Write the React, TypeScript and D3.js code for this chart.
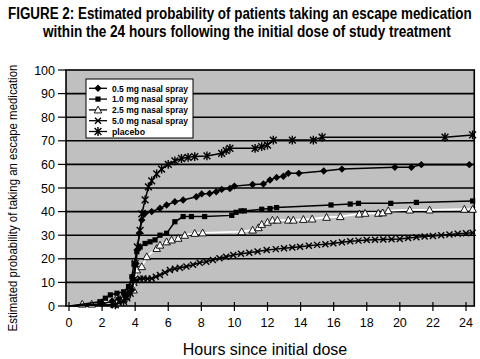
import React, { useLayoutEffect, useRef, useState } from "react";
import * as d3 from "d3";

type Pt = [number, number];

const seriesNames = ["0.5 mg nasal spray", "1.0 mg nasal spray", "2.5 mg nasal spray", "5.0 mg nasal spray", "placebo"];

const dose05: Pt[] = [[0,0],[2.0,1],[2.6,2],[3.0,3],[3.4,4.5],[3.65,5.5],[3.8,6.8],[3.93,11],[4.05,18],[4.13,23.7],[4.25,30.8],[4.4,36.4],[4.6,39.3],[5.0,40],[5.5,41.4],[5.9,42.8],[6.4,44.2],[6.9,44.9],[7.7,46.3],[8.02,47.5],[8.5,47.7],[8.9,48.4],[9.23,49.4],[9.73,49.8],[10.0,50.8],[11.1,51.5],[11.75,51.7],[12.15,53.4],[12.55,54.5],[12.96,55],[13.26,56.2],[13.9,56.2],[15.4,57.2],[16.5,58],[19.7,58.8],[20.7,58.8],[21.3,59.9],[24.2,59.9]];

const dose10: Pt[] = [[0,0],[1.87,1.8],[2.2,3.3],[2.5,4.7],[2.9,5.4],[3.3,6],[3.6,8.2],[3.8,12.4],[3.93,18],[4.1,23],[4.3,25],[4.6,26.5],[4.9,27.2],[5.2,28],[5.5,30],[5.9,30.8],[6.4,35.7],[6.9,37.9],[7.4,37.9],[8.2,37.9],[9.84,38.4],[10.1,39.7],[10.4,40.3],[10.6,40.3],[11.65,41],[12.15,41.3],[12.55,41.7],[15.84,42.8],[17,43.2],[17.5,43.5],[19.45,43.5],[21,43.9],[24.4,44.5]];

const dose25: Pt[] = [[0,0],[0.8,0.8],[1.37,0.8],[2.0,1.5],[2.8,2.5],[3.2,3.5],[3.5,4.7],[3.9,6.8],[4.1,15.3],[4.4,16.7],[4.7,20.9],[5.3,24.4],[5.5,25.8],[5.9,27.2],[6.2,28],[6.6,28.7],[7.0,30],[7.6,30.8],[8.08,31],[10.44,31.5],[11.1,32.2],[11.45,33.2],[11.65,34.6],[12.0,35.5],[12.3,36.4],[12.6,36.4],[13.26,36.4],[13.56,36.4],[14.17,36.7],[14.7,36.9],[15.57,37.6],[16.4,37.9],[17.55,39],[17.9,39.3],[18.7,39.3],[18.96,39.5],[19.3,40.4],[20.6,40.7],[21.8,40.7],[23.9,41],[24.4,41]];

const dose50: Pt[] = [[0,0],[2.7,0.4],[3.0,1.5],[3.3,2.5],[3.5,4],[3.65,6],[3.8,8.2],[3.95,9.8],[4.1,11],[4.3,11.5],[4.5,11.7],[4.75,11.5],[5.0,11.7],[5.25,12.4],[5.5,13.1],[5.8,14.2],[6.1,15.3],[6.4,15.8],[6.7,16.2],[7.1,16.7],[7.5,17.5],[7.9,18.3],[8.3,18.8],[8.7,19.5],[9.1,20.2],[9.5,20.9],[9.93,21.6],[10.4,22.1],[10.9,22.6],[11.4,23.1],[11.95,23.7],[12.5,24.1],[13.0,24.5],[13.5,24.8],[13.97,25.1],[14.5,25.5],[15.0,25.9],[15.5,26.2],[15.98,26.6],[16.5,27],[17,27.4],[17.5,27.7],[18,28],[18.5,28.1],[19,28.2],[19.5,28.3],[20,28.4],[20.5,28.8],[21,29.1],[21.5,29.4],[22,29.7],[22.5,30],[23,30.3],[23.5,30.6],[24,30.8],[24.4,31]];

const placebo: Pt[] = [[0,0],[2.8,0.5],[3.3,2],[3.5,3.5],[3.7,5.4],[3.9,11],[4.0,18],[4.13,25],[4.3,32],[4.4,39],[4.6,45],[4.8,50.5],[5.0,53],[5.3,56],[5.6,58],[6.0,60],[6.4,61.5],[6.8,62.5],[7.2,63],[7.6,63.3],[8.34,63.6],[9.23,64.7],[9.5,65.8],[9.73,66.8],[11.25,66.8],[11.65,67.5],[12.0,68.2],[12.35,70.3],[13.5,70.3],[14.77,70.3],[15.3,71.5],[22.73,71.5],[24.4,72.5]];

const xTicks = [0,2,4,6,8,10,12,14,16,18,20,22,24];
const yTicks = [0,10,20,30,40,50,60,70,80,90,100];

const titleLines = [
  "FIGURE 2: Estimated probability of patients taking an escape medication",
  "within the 24 hours following the initial dose of study treatment",
];
const xTitle = "Hours since initial dose";
const yTitle = "Estimated probability of taking an escape medication";

type MarkerKind = "diamond" | "square" | "triangle" | "x" | "asterisk";

function Marker({ kind, x, y }: { kind: MarkerKind; x: number; y: number }) {
  if (kind === "diamond") {
    const r = 3.7;
    return <path d={`M${x},${y - r}L${x + r},${y}L${x},${y + r}L${x - r},${y}Z`} fill="#000" />;
  }
  if (kind === "square") {
    const r = 2.6;
    return <rect x={x - r} y={y - r} width={2 * r} height={2 * r} fill="#000" />;
  }
  if (kind === "triangle") {
    const r = 3.8;
    return <path d={`M${x},${y - r}L${x + r},${y + r * 0.8}L${x - r},${y + r * 0.8}Z`} fill="#fff" stroke="#000" strokeWidth={0.9} />;
  }
  if (kind === "x") {
    const r = 3;
    return <path d={`M${x - r},${y - r}L${x + r},${y + r}M${x + r},${y - r}L${x - r},${y + r}`} stroke="#000" strokeWidth={1.4} fill="none" />;
  }
  const r = 3.4;
  return <path d={`M${x - r},${y - r}L${x + r},${y + r}M${x + r},${y - r}L${x - r},${y + r}M${x},${y - r - 1}L${x},${y + r + 1}`} stroke="#000" strokeWidth={1.4} fill="none" />;
}

// Text squeezed horizontally (along its own axis) to a target length, measured in the browser.
function FitText({ x, y, target, rotate = 0, anchor = "start", fontSize, fontWeight, fontFamily, children }:
  { x: number; y: number; target: number; rotate?: number; anchor?: string; fontSize: number; fontWeight?: string; fontFamily?: string; children: string }) {
  const ref = useRef<SVGTextElement>(null);
  const [k, setK] = useState(1);
  useLayoutEffect(() => {
    if (ref.current) {
      const len = ref.current.getComputedTextLength();
      if (len > 0) setK(target / len);
    }
  }, [target, children]);
  return (
    <text ref={ref} transform={`translate(${x},${y}) rotate(${rotate}) scale(${k},1)`} textAnchor={anchor as any}
      fontSize={fontSize} fontWeight={fontWeight} fontFamily={fontFamily}>{children}</text>
  );
}

export default function App() {
  const W = 480, H = 359;
  const x = d3.scaleLinear().domain([0, 24]).range([69, 466]);
  const y = d3.scaleLinear().domain([0, 100]).range([306, 70]);
  const plotL = x(-0.18), plotR = x(24.5), plotT = y(100), plotB = y(0);
  const line = d3.line<Pt>().x((d) => x(d[0])).y((d) => y(d[1]));

  const series: { name: string; data: Pt[]; kind: MarkerKind; color: string }[] = [
    { name: seriesNames[3], data: dose50, kind: "x", color: "#000" },
    { name: seriesNames[2], data: dose25, kind: "triangle", color: "#fff" },
    { name: seriesNames[1], data: dose10, kind: "square", color: "#000" },
    { name: seriesNames[0], data: dose05, kind: "diamond", color: "#000" },
    { name: seriesNames[4], data: placebo, kind: "asterisk", color: "#000" },
  ];
  const legendOrder: MarkerKind[] = ["diamond", "square", "triangle", "x", "asterisk"];
  const font = "'Liberation Sans', Arial, Helvetica, sans-serif";

  return (
    <svg width={W} height={H} style={{ position: "absolute", left: 0, top: 0, background: "#fff" }} fontFamily={font}>
      <rect x={0} y={0} width={W} height={H} fill="#fff" />
      <FitText x={8} y={19} target={464} fontSize={17} fontWeight="bold">{titleLines[0]}</FitText>
      <FitText x={43} y={37} target={408} fontSize={17} fontWeight="bold">{titleLines[1]}</FitText>
      <rect x={plotL} y={plotT} width={plotR - plotL} height={plotB - plotT} fill="#c0c0c0" />
      {yTicks.filter((v) => v > 0 && v < 100).map((v) => (
        <line key={v} x1={plotL} x2={plotR} y1={y(v)} y2={y(v)} stroke="#000" strokeWidth={1.6} />
      ))}
      <rect x={plotL} y={plotT} width={plotR - plotL} height={plotB - plotT} fill="none" stroke="#000" strokeWidth={1.6} />
      {yTicks.map((v) => (
        <g key={v}>
          <line x1={plotL - 8} x2={plotL} y1={y(v)} y2={y(v)} stroke="#000" strokeWidth={1.2} />
          <text x={55} y={y(v)} dy="0.36em" textAnchor="end" fontSize={12.5}>{v}</text>
        </g>
      ))}
      {xTicks.map((v) => (
        <g key={v}>
          <line x1={x(v)} x2={x(v)} y1={plotB - 4} y2={plotB + 5} stroke="#000" strokeWidth={1.2} />
          <text x={x(v)} y={327} textAnchor="middle" fontSize={12.5}>{v}</text>
        </g>
      ))}
      {series.map((s) => (
        <g key={s.name}>
          <path d={line(s.data) || ""} fill="none" stroke={s.color} strokeWidth={s.color === "#fff" ? 1.8 : 1.5} />
          {s.data.slice(1).map((d, i) => (
            <Marker key={i} kind={s.kind} x={x(d[0])} y={y(d[1])} />
          ))}
        </g>
      ))}
      <g>
        <rect x={86} y={79} width={107} height={59} fill="#fff" stroke="#000" strokeWidth={1} />
        {seriesNames.map((n, i) => {
          const ly = 88.3 + i * 10.8;
          return (
            <g key={n}>
              <line x1={89} x2={107} y1={ly} y2={ly} stroke="#000" strokeWidth={1.3} />
              <Marker kind={legendOrder[i]} x={98} y={ly} />
              <text x={112} y={ly} dy="0.36em" fontSize={9.2} fontWeight="bold"
                textLength={i === 4 ? 33 : 76} lengthAdjust="spacingAndGlyphs">{n}</text>
            </g>
          );
        })}
      </g>
      <text x={265} y={355} textAnchor="middle" fontSize={16}>{xTitle}</text>
      <FitText x={17} y={198} rotate={-90} anchor="middle" target={267} fontSize={12.5}>{yTitle}</FitText>
    </svg>
  );
}
